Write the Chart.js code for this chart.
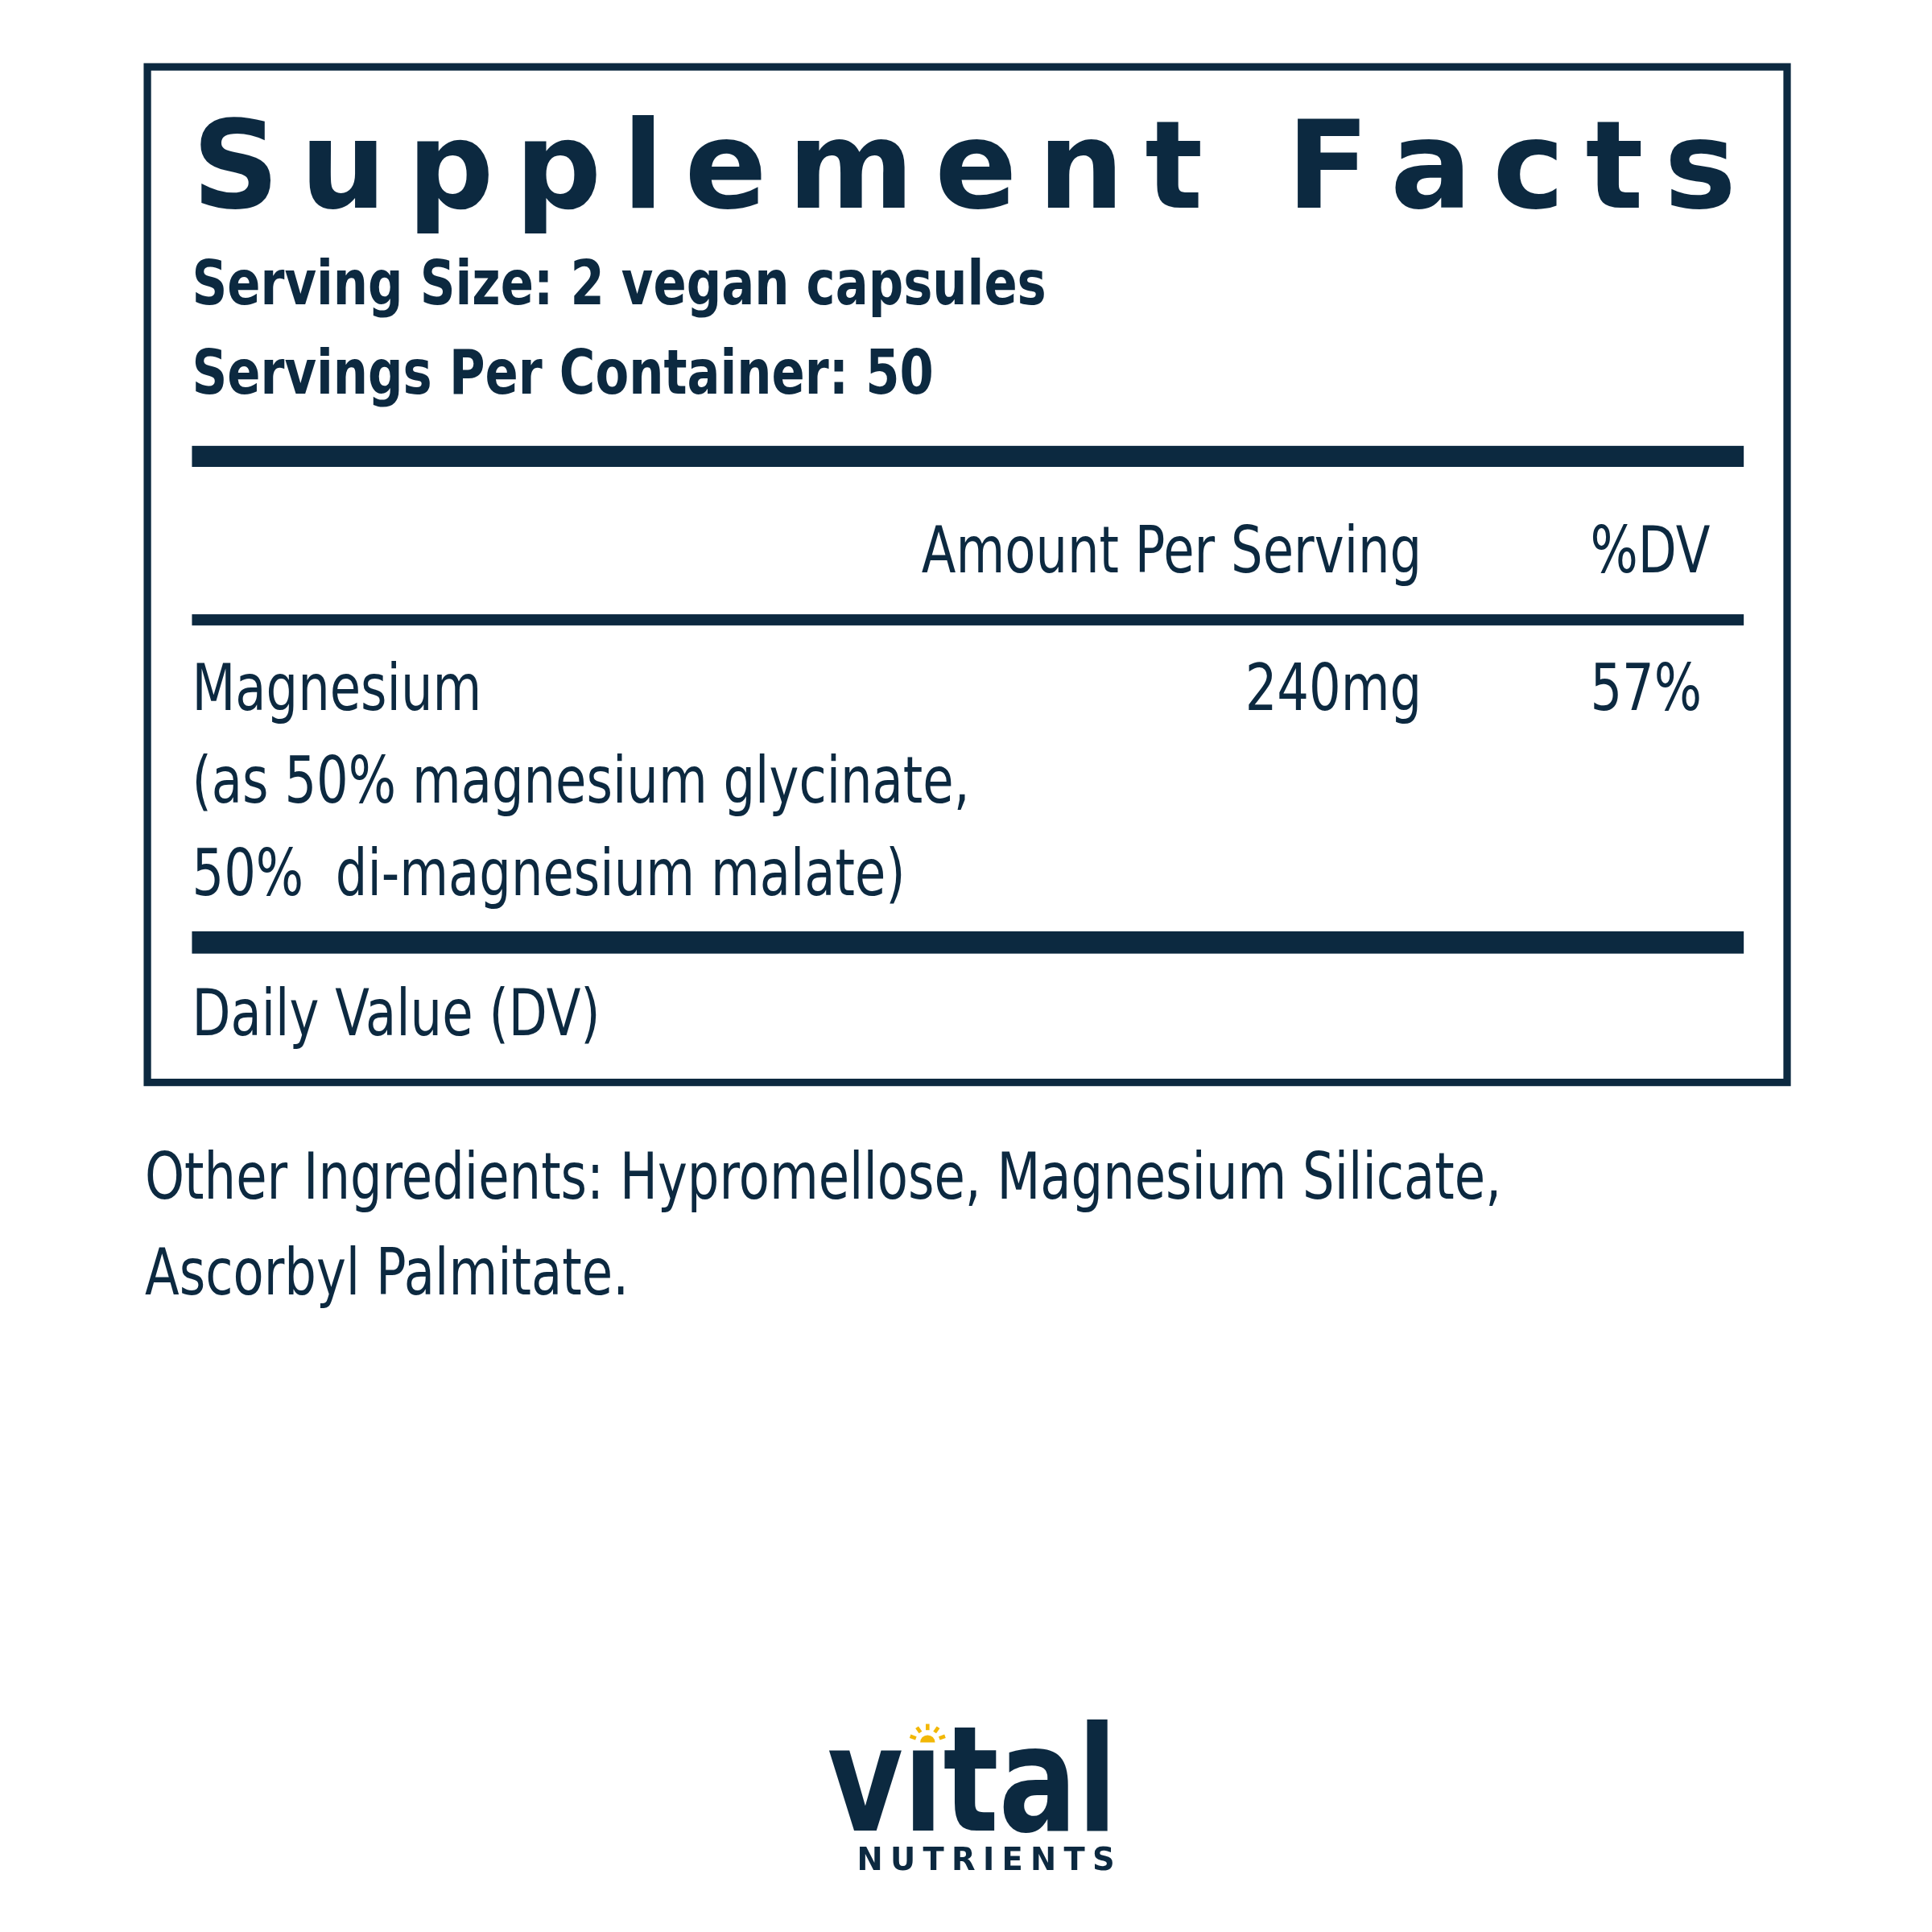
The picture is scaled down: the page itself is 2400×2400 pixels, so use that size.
<!DOCTYPE html>
<html><head><meta charset="utf-8">
<script src="https://cdn.jsdelivr.net/npm/chart.js@4"></script>
<style>html,body{margin:0;padding:0;background:#fff}#c{display:block}</style>
</head><body>
<canvas id="c" width="2400" height="2400"></canvas>
<script>
const title = "Supplement Facts";
const servingLines = ["Serving Size: 2 vegan capsules", "Servings Per Container: 50"];
const headers = ["Amount Per Serving", "%DV"];
const nutrientLines = ["Magnesium", "(as 50% magnesium glycinate,", "50%  di-magnesium malate)"];
const amounts = ["240mg"];
const dvValues = ["57%"];
const footnote = "Daily Value (DV)";
const otherLines = ["Other Ingredients: Hypromellose, Magnesium Silicate,", "Ascorbyl Palmitate."];
const brand = ["vıtal", "NUTRIENTS"];

const NAVY = "#0c2940";

function spaced(ctx, text, x0, x1, y) {
  const chars = [...text];
  const widths = chars.map(c => ctx.measureText(c).width);
  const total = widths.reduce((a, b) => a + b, 0);
  const gap = (x1 - x0 - total) / (chars.length - 1);
  let x = x0;
  chars.forEach((c, i) => { ctx.fillText(c, x, y); x += widths[i] + gap; });
}
function cond(ctx, text, x, y, k) {
  ctx.save(); ctx.translate(x, y); ctx.scale(k, 1); ctx.fillText(text, 0, 0); ctx.restore();
}
function fitW(ctx, text, x0, x1, y) {
  const w = ctx.measureText(text).width;
  cond(ctx, text, x0, y, (x1 - x0) / w);
}

const K = 0.78;
const labelPlugin = {
  id: 'label',
  afterDraw(chart) {
    const ctx = chart.ctx;
    ctx.save();
    const s = 2400 / 1560;
    ctx.scale(s, s);
    ctx.fillStyle = NAVY; ctx.strokeStyle = NAVY;
    ctx.textAlign = 'left'; ctx.textBaseline = 'alphabetic';
    ctx.lineWidth = 6;
    ctx.strokeRect(119, 54, 1324, 820);
    ctx.font = "bold 98px 'DejaVu Sans',sans-serif";
    spaced(ctx, title, 155, 1402, 168);
    ctx.font = "bold 50px 'DejaVu Sans',sans-serif";
    cond(ctx, servingLines[0], 155, 246, 0.79);
    cond(ctx, servingLines[1], 155, 318, 0.79);
    ctx.fillRect(155, 360, 1253, 17);
    ctx.fillRect(155, 496, 1253, 9);
    ctx.fillRect(155, 752, 1253, 18);
    ctx.font = "52px 'DejaVu Sans',sans-serif";
    ctx.textAlign = 'right';
    cond(ctx, headers[0], 1148, 462, K);
    cond(ctx, amounts[0], 1148, 573, K);
    ctx.textAlign = 'left';
    cond(ctx, headers[1], 1284, 462, K);
    cond(ctx, dvValues[0], 1284, 573, K);
    nutrientLines.forEach((t, i) => cond(ctx, t, 155, 573 + i * 75, K));
    cond(ctx, footnote, 155, 836, K);
    otherLines.forEach((t, i) => cond(ctx, t, 117, 968 + i * 77, K));
    // logo
    ctx.font = "bold 118px 'DejaVu Sans',sans-serif";
    fitW(ctx, brand[0], 668, 902, 1478);
    ctx.font = "bold 25px 'DejaVu Sans',sans-serif";
    spaced(ctx, brand[1], 692, 900, 1510);
    ctx.fillStyle = "#f2b705"; ctx.strokeStyle = "#f2b705"; ctx.lineWidth = 3;
    const cx = 749, cy = 1407;
    ctx.beginPath(); ctx.arc(cx, cy, 6, Math.PI, 0); ctx.fill();
    [-160, -125, -90, -55, -20].forEach(a => {
      const r = a * Math.PI / 180;
      ctx.beginPath();
      ctx.moveTo(cx + Math.cos(r) * 10, cy + Math.sin(r) * 10);
      ctx.lineTo(cx + Math.cos(r) * 15, cy + Math.sin(r) * 15);
      ctx.stroke();
    });
    ctx.restore();
  }
};

new Chart(document.getElementById('c'), {
  type: 'bar',
  data: { labels: [nutrientLines[0]], datasets: [{ data: [0], backgroundColor: 'rgba(0,0,0,0)' }] },
  options: {
    responsive: false, animation: false, devicePixelRatio: 1,
    plugins: { legend: { display: false }, tooltip: { enabled: false } },
    scales: { x: { display: false }, y: { display: false } }
  },
  plugins: [{ id: 'bg', beforeDraw(c) { c.ctx.fillStyle = '#fff'; c.ctx.fillRect(0, 0, 2400, 2400); } }, labelPlugin]
});
</script>
</body></html>
